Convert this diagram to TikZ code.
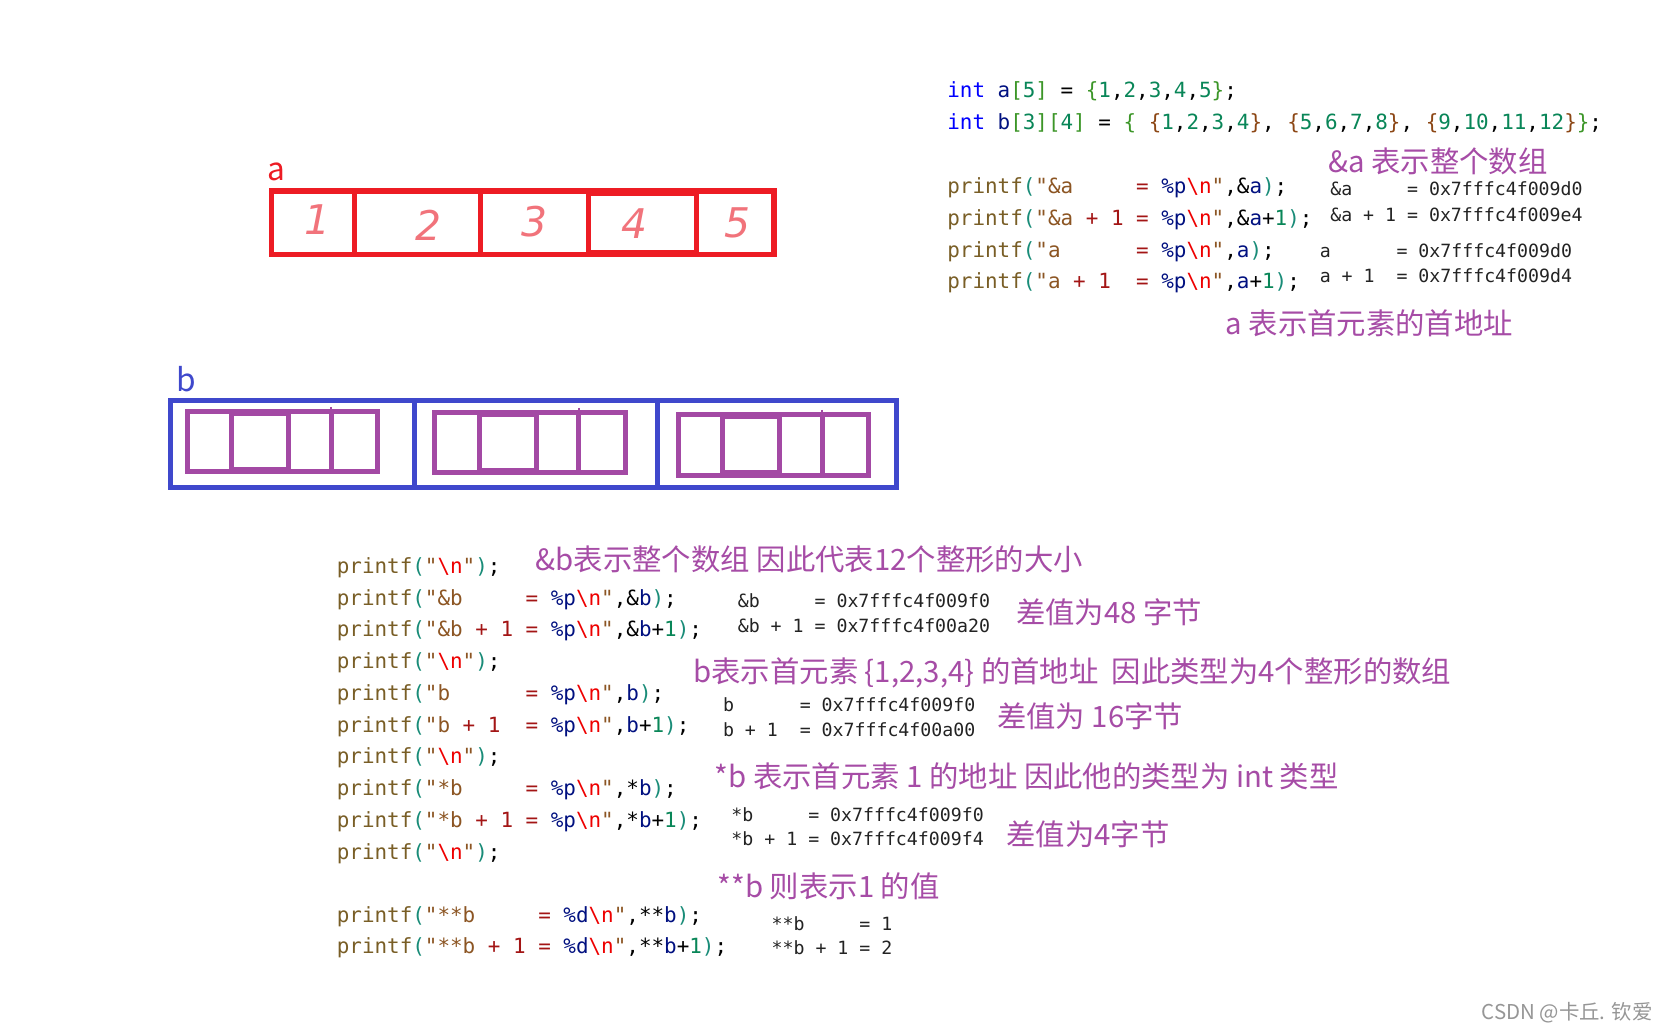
\documentclass[tikz,border=0pt]{standalone}
\usepackage{fontspec}
\setmonofont{DejaVu Sans Mono}
\newfontfamily\cjkfont{Noto Sans CJK SC}
\newfontfamily\handfont{DejaVu Sans}
\usepackage{xcolor}
\definecolor{fnbrown}{RGB}{121,94,38}
\definecolor{parteal}{RGB}{25,140,120}
\definecolor{strbrown}{RGB}{140,85,35}
\definecolor{strred}{RGB}{163,21,21}
\definecolor{fmtblue}{RGB}{0,16,128}
\definecolor{escred}{RGB}{238,0,0}
\definecolor{varblue}{RGB}{0,16,128}
\definecolor{numgreen}{RGB}{9,134,88}
\definecolor{kwblue}{RGB}{0,0,255}
\definecolor{brgreen}{RGB}{60,150,40}
\definecolor{brbrown}{RGB}{140,70,20}
\definecolor{outgray}{RGB}{35,35,35}
\definecolor{notepurple}{RGB}{166,76,166}
\definecolor{arrred}{RGB}{237,28,36}
\definecolor{arrblue}{RGB}{63,72,204}
\definecolor{rowpurple}{RGB}{163,73,164}
\definecolor{inkred}{RGB}{238,80,90}
\definecolor{markgray}{RGB}{150,150,150}

\newcommand{\codefont}{\ttfamily\fontsize{11.25pt}{13pt}\selectfont}
\newcommand{\outfont}{\ttfamily\fontsize{9.8pt}{12pt}\selectfont}
\newcommand{\notefont}{\cjkfont\fontsize{15.8pt}{18pt}\selectfont}
\newcommand{\fn}{\textcolor{fnbrown}{printf}}
\newcommand{\po}{\textcolor{parteal}{(}}
\newcommand{\pc}{\textcolor{parteal}{)}}
\newcommand{\nl}{\textcolor{escred}{\textbackslash n}}
\newcommand{\vb}[1]{\textcolor{varblue}{#1}}
\newcommand{\nm}[1]{\textcolor{numgreen}{#1}}
\newcommand{\bo}[1]{\textcolor{brgreen}{#1}}
\newcommand{\bt}[1]{\textcolor{brbrown}{#1}}
% printf("#1#2#3\n",#4);
\newcommand{\pf}[4]{\fn\po\textcolor{strbrown}{"#1}\textcolor{strred}{#2}\textcolor{fmtblue}{#3}\nl\textcolor{strbrown}{"},#4\pc;}
\newcommand{\pfnl}{\fn\po\textcolor{strbrown}{"}\nl\textcolor{strbrown}{"}\pc;}

\begin{document}
\begin{tikzpicture}[x=0.02cm,y=-0.02cm,
  code/.style={anchor=base west,inner sep=0pt,font=\codefont},
  outtext/.style={anchor=base west,inner sep=0pt,font=\outfont,text=outgray},
  note/.style={anchor=base west,inner sep=0pt,font=\notefont,text=notepurple},
  digit/.style={inner sep=0pt,font=\handfont\itshape\fontsize{22pt}{24pt}\selectfont,text=inkred,text opacity=0.8},
  redline/.style={draw=arrred,line width=2.8pt},
  blueline/.style={draw=arrblue,line width=2.65pt},
  rowline/.style={draw=rowpurple,line width=2.65pt}
]
\fill[white] (0,0) rectangle (1568,973);
\useasboundingbox (0,0) rectangle (1568,973);

% array a
\node[anchor=base west,inner sep=0pt,font=\cjkfont\fontsize{17pt}{19pt}\selectfont,text=arrred] (alabel) at (252,171) {a};
\draw[redline] (256.5,180.5) rectangle (731.5,240.5);
\foreach \x in {335,454} \draw[redline] (\x,180.5) -- (\x,240.5);
\draw[redline] (556,182.5) rectangle (658,238.5);
\node[digit] (d1) at (300,208) {1};
\node[digit] (d2) at (405,213) {2};
\node[digit] (d3) at (505,209) {3};
\node[digit] (d4) at (600,211) {4};
\node[digit] (d5) at (697,211) {5};

% array b
\node[anchor=base west,inner sep=0pt,font=\cjkfont\fontsize{17pt}{19pt}\selectfont,text=arrblue] (blabel) at (166,370) {b};
\draw[blueline] (161.5,378.5) rectangle (847.5,460.5);
\foreach \x in {392,621} \draw[blueline] (\x,378.5) -- (\x,460.5);
\foreach \dx/\dy in {0/0,234/1,464/3} {
  \begin{scope}[shift={(\dx,\dy)}]
    \draw[rowline] (177,389) rectangle (357,446);
    \foreach \x in {219,273,313} \draw[rowline] (\x,389) -- (\x,446);
    \draw[rowline] (219,391) rectangle (273,444);
    \draw[rowpurple,line width=0.9pt] (313,384.5) -- (313,389);
  \end{scope}
}

% declarations
\node[code] (decla) at (895,92) {\textcolor{kwblue}{int}~\vb{a}\bo{[}\nm{5}\bo{]}~=~\bo{\{}\nm{1},\nm{2},\nm{3},\nm{4},\nm{5}\bo{\}};};
\node[code] (declb) at (895,122) {\textcolor{kwblue}{int}~\vb{b}\bo{[}\nm{3}\bo{]}\bo{[}\nm{4}\bo{]}~=~\bo{\{}~\bt{\{}\nm{1},\nm{2},\nm{3},\nm{4}\bt{\}},~\bt{\{}\nm{5},\nm{6},\nm{7},\nm{8}\bt{\}},~\bt{\{}\nm{9},\nm{10},\nm{11},\nm{12}\bt{\}}\bo{\}};};

% printing a
\node[note] (nota) at (1255,163) {\&a 表示整个数组};
\node[code] (pfa1) at (895,183) {\pf{\&a}{~~~~~=~}{\%p}{\&\vb{a}}};
\node[code] (pfa2) at (895,213) {\pf{\&a}{~+~1~=~}{\%p}{\&\vb{a}+\nm{1}}};
\node[code] (pfa3) at (895,243) {\pf{a}{~~~~~~=~}{\%p}{\vb{a}}};
\node[code] (pfa4) at (895,273) {\pf{a}{~+~1~~=~}{\%p}{\vb{a}+\nm{1}}};
\node[outtext] (outa1) at (1257,185) {\&a~~~~~=~0x7fffc4f009d0};
\node[outtext] (outa2) at (1257,209) {\&a~+~1~=~0x7fffc4f009e4};
\node[outtext] (outa3) at (1247,243) {a~~~~~~=~0x7fffc4f009d0};
\node[outtext] (outa4) at (1247,267) {a~+~1~~=~0x7fffc4f009d4};
\node[note] (notaa) at (1158,316) {a 表示首元素的首地址};

% printing b
\node[code] (pfb0) at (318,542) {\pfnl};
\node[note] (notb) at (506,539) {\&b表示整个数组 因此代表12个整形的大小};
\node[code] (pfb1) at (318,572) {\pf{\&b}{~~~~~=~}{\%p}{\&\vb{b}}};
\node[code] (pfb2) at (318,602) {\pf{\&b}{~+~1~=~}{\%p}{\&\vb{b}+\nm{1}}};
\node[outtext] (outb1) at (697,574) {\&b~~~~~=~0x7fffc4f009f0};
\node[outtext] (outb2) at (697,598) {\&b~+~1~=~0x7fffc4f00a20};
\node[note] (diffb) at (960,589) {差值为48 字节};

\node[code] (pfb3) at (318,632) {\pfnl};
\node[note] (notbb) at (655,645) {b表示首元素 \{1,2,3,4\} 的首地址~~因此类型为4个整形的数组};
\node[code] (pfb4) at (318,662) {\pf{b}{~~~~~~=~}{\%p}{\vb{b}}};
\node[code] (pfb5) at (318,692) {\pf{b}{~+~1~~=~}{\%p}{\vb{b}+\nm{1}}};
\node[outtext] (outb3) at (683,672) {b~~~~~~=~0x7fffc4f009f0};
\node[outtext] (outb4) at (683,696) {b~+~1~~=~0x7fffc4f00a00};
\node[note] (diffbb) at (942,688) {差值为 16字节};

\node[code] (pfb6) at (318,722) {\pfnl};
\node[note] (notsb) at (675,744) {*b 表示首元素 1 的地址 因此他的类型为 int 类型};
\node[code] (pfb7) at (318,752) {\pf{*b}{~~~~~=~}{\%p}{*\vb{b}}};
\node[code] (pfb8) at (318,782) {\pf{*b}{~+~1~=~}{\%p}{*\vb{b}+\nm{1}}};
\node[outtext] (outb5) at (691,776) {*b~~~~~=~0x7fffc4f009f0};
\node[outtext] (outb6) at (691,799) {*b~+~1~=~0x7fffc4f009f4};
\node[note] (diffsb) at (951,799) {差值为4字节};

\node[code] (pfb9) at (318,812) {\pfnl};
\node[note] (notssb) at (678,848) {**b 则表示1 的值};
\node[code] (pfb10) at (318,872) {\pf{**b}{~~~~~=~}{\%d}{**\vb{b}}};
\node[code] (pfb11) at (318,901) {\pf{**b}{~+~1~=~}{\%d}{**\vb{b}+\nm{1}}};
\node[outtext] (outb7) at (729,879) {**b~~~~~=~1};
\node[outtext] (outb8) at (729,902) {**b~+~1~=~2};

% watermark
\node[anchor=base west,inner sep=0pt,font=\cjkfont\fontsize{11pt}{13pt}\selectfont,text=markgray] (mark) at (1400,964) {CSDN @卡丘. 钦爱};
\end{tikzpicture}
\end{document}
